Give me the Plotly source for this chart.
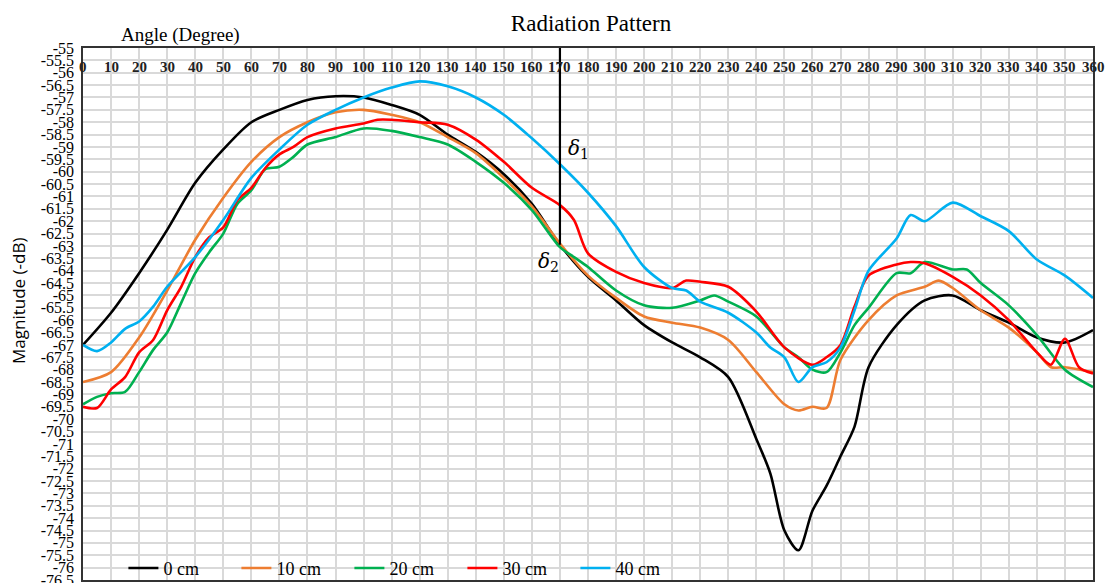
import plotly.graph_objects as go

angles_a = [0, 10, 20, 30, 40, 50, 60, 70, 80, 90, 100, 110, 120, 130, 140, 150, 160, 170,
            180, 190, 200, 210, 220, 230, 240, 245, 250, 255, 260, 265, 270, 275, 280,
            290, 300, 310, 320, 330, 340, 350, 360]
cm0 = [-67.0, -65.7, -64.1, -62.35, -60.45, -59.1, -58.0, -57.5, -57.1, -56.95, -57.0, -57.3,
       -57.7, -58.5, -59.2, -60.1, -61.3, -62.95,
       -64.25, -65.2, -66.2, -66.9, -67.5, -68.3, -70.8, -72.2, -74.5, -75.3, -73.7, -72.7,
       -71.5, -70.3, -67.9,
       -66.2, -65.2, -65.0, -65.6, -66.1, -66.7, -66.9, -66.4]

angles_b = [0, 10, 20, 30, 40, 50, 60, 70, 80, 90, 100, 110, 120, 130, 140, 150, 160, 170,
            180, 190, 200, 210, 220, 230, 240, 250, 255, 260, 265, 270, 280, 290, 300, 305,
            310, 320, 330, 340, 345, 350, 360]
cm10 = [-68.5, -68.1, -66.7, -64.8, -62.75, -61.05, -59.6, -58.6, -58.0, -57.6, -57.5, -57.7,
        -58.0, -58.6, -59.25, -60.25, -61.4, -62.9,
        -64.2, -65.1, -65.85, -66.1, -66.3, -66.8, -68.1, -69.4, -69.65, -69.5, -69.55, -67.6,
        -66.0, -65.0, -64.65, -64.4,
        -64.7, -65.6, -66.3, -67.3, -67.9, -67.9, -68.1]

angles_c = [0, 5, 10, 15, 20, 25, 30, 35, 40, 45, 50, 55, 60, 65, 70, 75, 80, 90, 100, 110,
            120, 130, 140, 150, 160, 170, 175, 180, 190, 200, 210, 220, 225, 230, 240, 250,
            255, 260, 265, 270, 275, 280, 290, 295, 300, 310, 315, 320, 330, 340, 350, 360]
cm20 = [-69.4, -69.1, -68.95, -68.9, -68.1, -67.2, -66.5, -65.3, -64.1, -63.25, -62.5, -61.3,
        -60.75, -59.9, -59.8, -59.4, -58.9, -58.6, -58.25, -58.35,
        -58.6, -58.9, -59.6, -60.45, -61.55, -63.05, -63.45, -63.85, -64.8, -65.4, -65.5,
        -65.2, -65.0, -65.25, -65.85, -67.1,
        -67.5, -68.0, -68.1, -67.3, -66.2, -65.5, -64.1, -64.1, -63.65, -63.95, -63.95,
        -64.5, -65.4, -66.6, -68.0, -68.7]

angles_d = [0, 5, 10, 15, 20, 25, 30, 35, 40, 45, 50, 55, 60, 65, 70, 75, 80, 90, 100, 105,
            110, 120, 130, 140, 150, 160, 170, 175, 180, 190, 200, 210, 215, 220, 230, 240,
            250, 260, 265, 270, 275, 280, 290, 295, 300, 310, 320, 330, 340, 345, 350, 355, 360]
cm30 = [-69.5, -69.55, -68.8, -68.3, -67.3, -66.8, -65.6, -64.65, -63.45, -62.65, -62.25,
        -61.15, -60.65, -59.85, -59.3, -59.0, -58.6, -58.25, -58.05, -57.9,
        -57.9, -58.0, -58.1, -58.7, -59.6, -60.65, -61.35, -61.95, -63.3, -64.05, -64.5,
        -64.7, -64.4, -64.45, -64.65, -65.65,
        -67.1, -67.8, -67.5, -67.0, -65.45, -64.2, -63.75, -63.65, -63.7, -64.25, -65.0,
        -66.0, -67.3, -67.8, -66.75, -67.9, -68.15]

angles_e = [0, 5, 10, 15, 20, 25, 30, 40, 50, 60, 70, 80, 90, 100, 110, 120, 130, 140, 150,
            160, 170, 180, 190, 200, 210, 215, 220, 230, 240, 245, 250, 255, 260, 265, 270,
            275, 280, 290, 295, 300, 310, 320, 330, 340, 350, 360]
cm40 = [-67.0, -67.25, -66.9, -66.35, -66.05, -65.45, -64.65, -63.45, -61.95, -60.25, -59.1,
        -58.1, -57.5, -57.0, -56.6, -56.35, -56.55, -57.0, -57.7,
        -58.65, -59.7, -60.85, -62.2, -63.85, -64.7, -64.8, -65.25, -65.7, -66.5, -67.1,
        -67.5, -68.5, -67.9, -67.7, -67.1,
        -65.6, -64.0, -62.7, -61.75, -62.0, -61.25, -61.8, -62.4, -63.55, -64.2, -65.1]

series_names = ["0 cm", "10 cm", "20 cm", "30 cm", "40 cm"]
series_colors = ["#000000", "#ED7D31", "#00B050", "#FF0000", "#00B0F0"]
series_x = [angles_a, angles_b, angles_c, angles_d, angles_e]
series_y = [cm0, cm10, cm20, cm30, cm40]

x_ticks = list(range(0, 361, 10))
x_ticklabels = [str(v) for v in x_ticks]
y_ticks = [-55 - 0.5 * i for i in range(44)]
y_ticklabels = [("%g" % v) for v in y_ticks]

marker_angle = 170
marker_top = -55
marker_bottom = -62.95

fig = go.Figure()
for name, col, xs, ys in zip(series_names, series_colors, series_x, series_y):
    fig.add_trace(go.Scatter(x=xs, y=ys, name=name, mode="lines",
                             line=dict(color=col, width=2.6, shape="spline", smoothing=0.8)))

fig.add_shape(type="line", xref="x", yref="y", x0=marker_angle, x1=marker_angle,
              y0=marker_top, y1=marker_bottom, line=dict(color="black", width=2.2))

# x tick labels drawn inside the plot, just below the top border
for xv, lab in zip(x_ticks, x_ticklabels):
    fig.add_annotation(x=xv, y=1 - 19 / 532, xref="x", yref="paper", text=lab,
                       showarrow=False, xanchor="center", yanchor="middle",
                       font=dict(family="Liberation Serif", size=15, color="#222222",
                                 weight="bold"))

fig.add_annotation(x=176.5, y=-59.1, xref="x", yref="y", text="<i>δ</i><sub>1</sub>",
                   showarrow=False, font=dict(family="DejaVu Serif", size=20, color="black"))
fig.add_annotation(x=166, y=-63.65, xref="x", yref="y", text="<i>δ</i><sub>2</sub>",
                   showarrow=False, font=dict(family="DejaVu Serif", size=20, color="black"))

fig.add_annotation(x=(180 - 83) / 1010, y=1.0, xref="paper", yref="paper", yanchor="bottom",
                   xanchor="center", text="Angle (Degree)", showarrow=False,
                   font=dict(family="Liberation Serif", size=19, color="black"))
fig.add_annotation(x=(18 - 83) / 1010, y=(580 - 301) / 532, xref="paper", yref="paper",
                   textangle=-90, xanchor="center", yanchor="middle",
                   text="Magnitude (-dB)", showarrow=False,
                   font=dict(family="Open Sans", size=17, color="black"))

fig.update_layout(
    width=1111, height=583,
    margin=dict(l=83, r=18, t=48, b=3, autoexpand=False),
    paper_bgcolor="white", plot_bgcolor="white",
    title=dict(text="Radiation Pattern", x=(591 - 83) / 1010, xref="paper", xanchor="center",
               y=1 - 23 / 583, yanchor="middle",
               font=dict(family="Liberation Serif", size=23, color="black")),
    showlegend=True,
    legend=dict(orientation="h", x=0.04, y=0.022, xanchor="left", yanchor="middle",
                bgcolor="rgba(0,0,0,0)", entrywidth=68, entrywidthmode="pixels",
                font=dict(family="Liberation Serif", size=18, color="black"),
                itemwidth=30, tracegroupgap=0),
)
fig.update_xaxes(range=[0, 360], side="top", tickvals=x_ticks, showticklabels=False,
                 showgrid=True, gridcolor="#d9d9d9", gridwidth=1.5, automargin=False,
                 showline=True, mirror=True, linecolor="#333333", linewidth=1.5,
                 ticks="", zeroline=False)
fig.update_yaxes(range=[-76.5, -55], tickvals=y_ticks, ticktext=y_ticklabels,
                 showgrid=True, gridcolor="#d9d9d9", gridwidth=1.5, automargin=False,
                 showline=True, mirror=True, linecolor="#333333", linewidth=1.5,
                 ticks="", zeroline=False, ticklabelstandoff=4, ticklabeloverflow="allow",
                 tickfont=dict(family="Liberation Serif", size=16, color="black"))

fig.write_html("out.html")
